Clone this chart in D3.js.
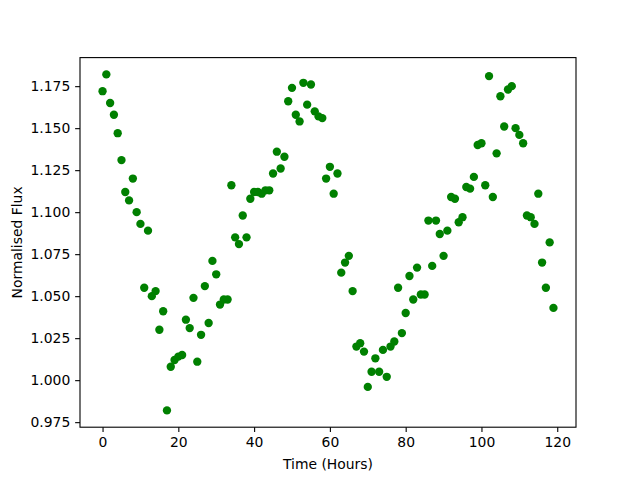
<!DOCTYPE html>
<html>
<head>
<meta charset="utf-8">
<script src="https://cdn.jsdelivr.net/npm/d3@7"></script>
<style>
  body { margin: 0; background: #fff; }
  svg text { font-family: "DejaVu Sans", sans-serif; font-size: 13.9px; fill: #000; }
</style>
</head>
<body>
<div id="chart"></div>
<script>
// hours since start of observation
const hours = d3.range(0, 120);
// normalised flux per hour
const flux = [
  1.172, 1.182, 1.165, 1.158, 1.147, 1.131, 1.112, 1.107, 1.120, 1.100,
  1.093, 1.055, 1.089, 1.050, 1.053, 1.030, 1.041, 0.982, 1.008, 1.012,
  1.014, 1.015, 1.036, 1.031, 1.049, 1.011, 1.027, 1.056, 1.034, 1.071,
  1.063, 1.045, 1.048, 1.048, 1.116, 1.085, 1.081, 1.098, 1.085, 1.108,
  1.112, 1.112, 1.111, 1.113, 1.113, 1.123, 1.136, 1.126, 1.133, 1.166,
  1.174, 1.158, 1.154, 1.177, 1.164, 1.176, 1.160, 1.157, 1.156, 1.120,
  1.127, 1.111, 1.123, 1.064, 1.070, 1.074, 1.053, 1.020, 1.022, 1.017,
  0.996, 1.005, 1.013, 1.005, 1.018, 1.002, 1.020, 1.023, 1.055, 1.028,
  1.040, 1.062, 1.048, 1.067, 1.051, 1.051, 1.095, 1.068, 1.095, 1.087,
  1.074, 1.089, 1.109, 1.108, 1.094, 1.097, 1.115, 1.114, 1.121, 1.140,
  1.141, 1.116, 1.181, 1.109, 1.135, 1.169, 1.151, 1.173, 1.175, 1.150,
  1.146, 1.141, 1.098, 1.097, 1.093, 1.111, 1.070, 1.055, 1.082, 1.043
];
const xTicks = [0, 20, 40, 60, 80, 100, 120];
const yTicks = [0.975, 1.000, 1.025, 1.050, 1.075, 1.100, 1.125, 1.150, 1.175];

const width = 640, height = 480;
const margin = {left: 80, right: 64, top: 57.6, bottom: 52.8};

const svg = d3.select('#chart').append('svg').attr('width', width).attr('height', height);

// matplotlib style 5% padding around the data
function padded(ext) {
  const r = ext[1] - ext[0];
  return [ext[0] - 0.05 * r, ext[1] + 0.05 * r];
}

const x = d3.scaleLinear().domain(padded(d3.extent(hours))).range([margin.left, width - margin.right]);
const y = d3.scaleLinear().domain(padded(d3.extent(flux))).range([height - margin.bottom, margin.top]);

const xAxis = d3.axisBottom(x).tickValues(xTicks).tickSize(4.86).tickPadding(4.86).tickFormat(d3.format('d'));
const yAxis = d3.axisLeft(y).tickValues(yTicks).tickSize(4.86).tickPadding(4.86).tickFormat(d3.format('.3f'));

const xAxisBlock = svg.append('g').attr('transform', 'translate(0,' + (height - margin.bottom) + ')').call(xAxis);
const yAxisBlock = svg.append('g').attr('transform', 'translate(' + margin.left + ',0)').call(yAxis);
[xAxisBlock, yAxisBlock].forEach(function (a) {
  a.select('.domain').remove();
  a.selectAll('line').attr('stroke', '#000').attr('stroke-width', 1.1);
  a.selectAll('text').style('font-size', '13.9px').style('font-family', '"DejaVu Sans", sans-serif').attr('fill', '#000');
});

// points
svg.append('g').selectAll('circle').data(hours).enter().append('circle')
  .attr('cx', function (d) { return x(d); })
  .attr('cy', function (d, i) { return y(flux[i]); })
  .attr('r', 4.17)
  .attr('fill', '#008000');

// frame
svg.append('rect')
  .attr('x', margin.left).attr('y', margin.top)
  .attr('width', width - margin.left - margin.right)
  .attr('height', height - margin.top - margin.bottom)
  .attr('fill', 'none').attr('stroke', '#000').attr('stroke-width', 1.1);

svg.append('text').attr('x', (margin.left + width - margin.right) / 2).attr('y', 469)
  .attr('text-anchor', 'middle').text('Time (Hours)');
svg.append('text')
  .attr('transform', 'translate(22,' + (margin.top + (height - margin.top - margin.bottom) / 2) + ') rotate(-90)')
  .attr('text-anchor', 'middle').text('Normalised Flux');
</script>
</body>
</html>
